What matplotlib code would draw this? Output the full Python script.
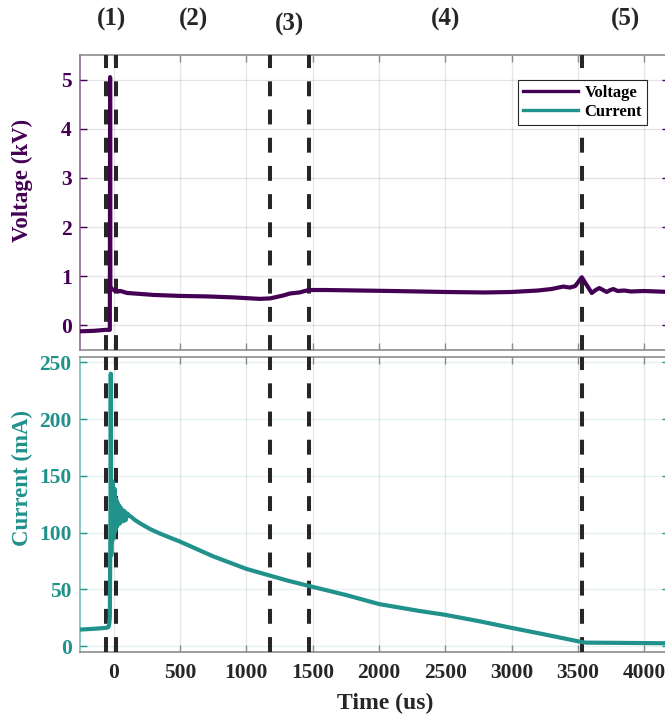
import matplotlib
matplotlib.use("Agg")
import matplotlib.pyplot as plt
from matplotlib.transforms import blended_transform_factory

# ---------------- data ----------------
t_volt = [-255, -150, -62, -30, -28, -26, -20, -15, -8, 0, 10, 20, 30, 50, 100, 200, 300,
          500, 700, 900, 1100, 1180, 1230, 1280, 1330, 1400, 1470, 1600, 1850, 2100, 2500,
          2800, 3000, 3200, 3300, 3390, 3440, 3480, 3530, 3560, 3605, 3635, 3662, 3690,
          3718, 3745, 3768, 3800, 3850, 3900, 4000, 4100, 4190]
voltage = [-0.12, -0.11, -0.09, -0.09, 5.05, 0.80, 0.76, 0.74, 0.73, 0.72, 0.70, 0.72, 0.69,
           0.70, 0.66, 0.64, 0.62, 0.60, 0.59, 0.57, 0.54, 0.55, 0.58, 0.61, 0.65, 0.67,
           0.72, 0.72, 0.71, 0.70, 0.68, 0.67, 0.68, 0.71, 0.74, 0.79, 0.77, 0.80, 0.98,
           0.85, 0.66, 0.72, 0.76, 0.72, 0.68, 0.72, 0.74, 0.70, 0.71, 0.69, 0.70, 0.69, 0.68]

t_curr = [-255, -150, -60, -42, -36, -30, -25, -23, -21, -19, -16, -13, -10, -7, -4, -1, 2,
          5, 8, 11, 14, 18, 22, 26, 30, 35, 40, 46, 52, 58, 65, 72, 80, 90, 100, 115, 130,
          160, 200, 275, 350, 500, 750, 1000, 1180, 1300, 1470, 1750, 2000, 2300, 2500,
          2750, 3000, 3250, 3530, 3560, 3800, 4000, 4190]
current = [14.5, 15.2, 16.0, 16.5, 18, 25, 120, 240, 160, 80, 130, 92, 145, 98, 140, 95,
           135, 100, 138, 102, 130, 104, 128, 106, 126, 108, 124, 108, 122, 110, 120, 110,
           119, 111, 117, 115, 114, 111, 108, 103, 99, 92, 79, 68, 62, 58, 53, 45, 37, 31,
           27.5, 22, 16, 10.2, 3.5, 3.0, 2.8, 2.6, 2.4]

boundaries = [-60, 20, 1180, 1470, 3530, 4190]
region_labels = ["(1)", "(2)", "(3)", "(4)", "(5)"]

x_ticks = [0, 500, 1000, 1500, 2000, 2500, 3000, 3500, 4000]
v_ticks = [0, 1, 2, 3, 4, 5]
i_ticks = [0, 50, 100, 150, 200, 250]

# ---------------- style ----------------
PURPLE = "#440154"
TEAL = "#21918c"
DARK = "#262626"
SPINE = "#8c8c8c"
FONT = "Liberation Serif"

plt.rcParams["font.family"] = [FONT, "DejaVu Serif"]
plt.rcParams["font.weight"] = "bold"

fig = plt.figure(figsize=(6.65, 7.16), dpi=100)
ax1 = fig.add_axes([80 / 665, 1 - 350 / 716, 589.3 / 665, 295 / 716])
ax2 = fig.add_axes([80 / 665, 1 - 651.7 / 716, 589.3 / 665, 295 / 716])

xlim = (-255, 4190)

for ax, col, ylim, yt in [(ax1, PURPLE, (-0.5, 5.5), v_ticks), (ax2, TEAL, (-5, 255), i_ticks)]:
    ax.set_xlim(*xlim)
    ax.set_ylim(*ylim)
    ax.set_xticks(x_ticks)
    ax.set_yticks(yt)
    ax.grid(True, axis="x", color="#e6e6e6", lw=0.9)
    ax.grid(True, axis="y", color=col, alpha=0.12, lw=0.9)
    ax.set_axisbelow(True)
    ax.tick_params(axis="both", direction="in", top=True, right=True, length=5, width=1)
    ax.tick_params(axis="y", colors=col, labelsize=15.5, pad=6)
    ax.tick_params(axis="x", colors=SPINE, labelcolor=DARK, labelsize=15.5, pad=8)
    for s in ["top", "bottom", "right"]:
        ax.spines[s].set_color(SPINE)
        ax.spines[s].set_linewidth(1.2)
    ax.spines["left"].set_color(col)
    ax.spines["left"].set_alpha(0.6)
    ax.spines["left"].set_linewidth(1.2)
    for lab in ax.get_yticklabels() + ax.get_xticklabels():
        lab.set_fontweight("bold")
    for b in boundaries[:-1]:
        ax.axvline(b, color=DARK, lw=2.9, linestyle=(0, (3.7, 3.3)), zorder=3)

ax1.tick_params(axis="x", labelbottom=False)

ax1.plot(t_volt, voltage, color=PURPLE, lw=3.0, label="Voltage", zorder=4)
ax2.plot(t_curr, current, color=TEAL, lw=3.0, label="Current", zorder=4)

# legend with both series
h1, = ax1.plot([], [], color=PURPLE, lw=2.4, label="Voltage")
h2, = ax1.plot([], [], color=TEAL, lw=2.4, label="Current")
leg = ax1.legend(handles=[h1, h2], loc="upper right", bbox_to_anchor=(0.962, 0.915),
                 prop={"family": FONT, "weight": "bold", "size": 12},
                 frameon=True, fancybox=False, edgecolor=DARK, framealpha=1,
                 handlelength=3.3, handletextpad=0.4, labelspacing=0.15,
                 borderpad=0.3, borderaxespad=0)
leg.get_frame().set_linewidth(0.8)

# region labels at midpoints of boundaries
trans = blended_transform_factory(ax1.transData, ax1.transAxes)
for k, lab in enumerate(region_labels):
    xm = (boundaries[k] + boundaries[k + 1]) / 2
    ym = 1.102 if lab == "(3)" else 1.119
    ax1.text(xm, ym, lab, transform=trans, ha="center", va="center",
             fontsize=18, fontweight="bold", color=DARK, clip_on=False)

fig.text(22 / 665, 1 - 180 / 716, "Voltage (kV)", rotation=90, ha="center", va="center",
         fontsize=16.5, fontweight="bold", color=PURPLE)
fig.text(22 / 665, 1 - 477.5 / 716, "Current (mA)", rotation=90, ha="center", va="center",
         fontsize=16.5, fontweight="bold", color=TEAL)
fig.text(385 / 665, 1 - 703 / 716, "Time (us)", ha="center", va="center",
         fontsize=17, fontweight="bold", color=DARK)

fig.savefig("out.png", dpi=100)
